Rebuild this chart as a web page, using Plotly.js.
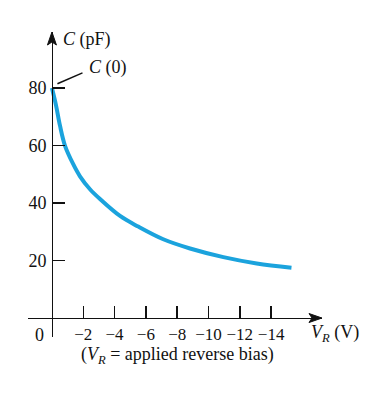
<!DOCTYPE html>
<html>
<head>
<meta charset="utf-8">
<script src="https://cdn.plot.ly/plotly-3.0.1.min.js"></script>
<style>
html,body{margin:0;padding:0;background:#fff;}
#chart{width:386px;height:398px;}
</style>
</head>
<body>
<div id="chart"></div>
<script>
// Reverse bias voltage V_R (V) and capacitance C (pF)
const voltage = [0, -0.26, -0.51, -0.83, -1.36, -1.79, -2.43, -3.07, -4.35, -5.51, -7.11, -8.82, -10.95, -13.08, -15.3];
const capacitance = [80, 74, 67, 60, 53.5, 49.3, 44.8, 41.4, 35.5, 31.8, 27.4, 24.2, 21.2, 19.0, 17.5];
const xTickVals = [-2, -4, -6, -8, -10, -12, -14];
const xTickText = ['\u22122', '\u22124', '\u22126', '\u22128', '\u221210', '\u221212', '\u221214'];
const yTickVals = [20, 40, 60, 80];
const yTickText = ['20', '40', '60', '80'];

const FONT = 'Liberation Serif, Times New Roman, serif';
const FS = 18;
const xr = [1.53, -17.25];
const yr = [-6.6, 99.5];

const trace = {
  x: voltage, y: capacitance, type: 'scatter', mode: 'lines',
  line: {color: '#1ba3dd', width: 4, shape: 'spline', smoothing: 1},
  hoverinfo: 'skip'
};

const layout = {
  width: 386, height: 398,
  margin: {l: 28, r: 64, t: 32, b: 61},
  paper_bgcolor: '#fff', plot_bgcolor: '#fff',
  showlegend: false,
  font: {family: FONT, size: FS, color: '#111'},
  xaxis: {
    range: xr, showgrid: false, zeroline: false,
    anchor: 'free', position: 0.0623,
    showline: true, linecolor: '#111', linewidth: 1.5,
    ticks: 'inside', ticklen: 12, tickwidth: 1.5, tickcolor: '#111',
    tickvals: xTickVals, ticktext: xTickText,
    tickfont: {family: FONT, size: FS - 1, color: '#111'}
  },
  yaxis: {
    range: yr, showgrid: false, zeroline: false,
    anchor: 'free', position: 0.0816,
    showline: true, linecolor: '#111', linewidth: 1.5,
    ticks: 'inside', ticklen: 12, tickwidth: 1.5, tickcolor: '#111',
    tickvals: yTickVals, ticktext: yTickText,
    ticklabelstandoff: 2,
    tickfont: {family: FONT, size: FS, color: '#111'}
  },
  shapes: [
    // leader line for C(0)
    {type: 'line', xref: 'x', yref: 'y', x0: -0.35, y0: 81.5, x1: -1.95, y1: 85.3,
     line: {color: '#111', width: 1.5}},
    // x-axis arrowhead
    {type: 'path', xref: 'x', yref: 'y', xsizemode: 'pixel', ysizemode: 'pixel',
     xanchor: xr[1], yanchor: 0,
     path: 'M 0 0 L -13 4.5 L -10 0 L -13 -4.5 Z',
     fillcolor: '#111', line: {color: '#111', width: 1}},
    // y-axis arrowhead
    {type: 'path', xref: 'x', yref: 'y', xsizemode: 'pixel', ysizemode: 'pixel',
     xanchor: 0, yanchor: yr[1],
     path: 'M 0 0 L 4.5 -13 L 0 -10 L -4.5 -13 Z',
     fillcolor: '#111', line: {color: '#111', width: 1}}
  ],
  annotations: [
    {x: 61, y: 39, text: '<i>C</i> (pF)', xanchor: 'left'},
    {x: 87, y: 67, text: '<i>C</i> (0)', xanchor: 'left'},
    {x: 46, y: 335, text: '0', xanchor: 'right'},
    {x: 309, y: 333, text: '<i>V</i><sub><i>R</i></sub> (V)', xanchor: 'left'},
    {x: 177, y: 355, text: '(<i>V</i><sub><i>R</i></sub> = applied reverse bias)', xanchor: 'center'}
  ]
};

// Place text annotations (given in pixels) in paper coordinates
const plotL = 28, plotT = 32, plotW = 386 - 28 - 64, plotH = 398 - 32 - 61;
layout.annotations.forEach(a => {
  a.xref = 'paper'; a.yref = 'paper';
  a.x = (a.x - plotL) / plotW;
  a.y = 1 - (a.y - plotT) / plotH;
  a.yanchor = 'middle';
  a.showarrow = false;
  a.font = {family: FONT, size: FS, color: '#111'};
});

Plotly.newPlot('chart', [trace], layout, {staticPlot: true, displayModeBar: false});
</script>
</body>
</html>
